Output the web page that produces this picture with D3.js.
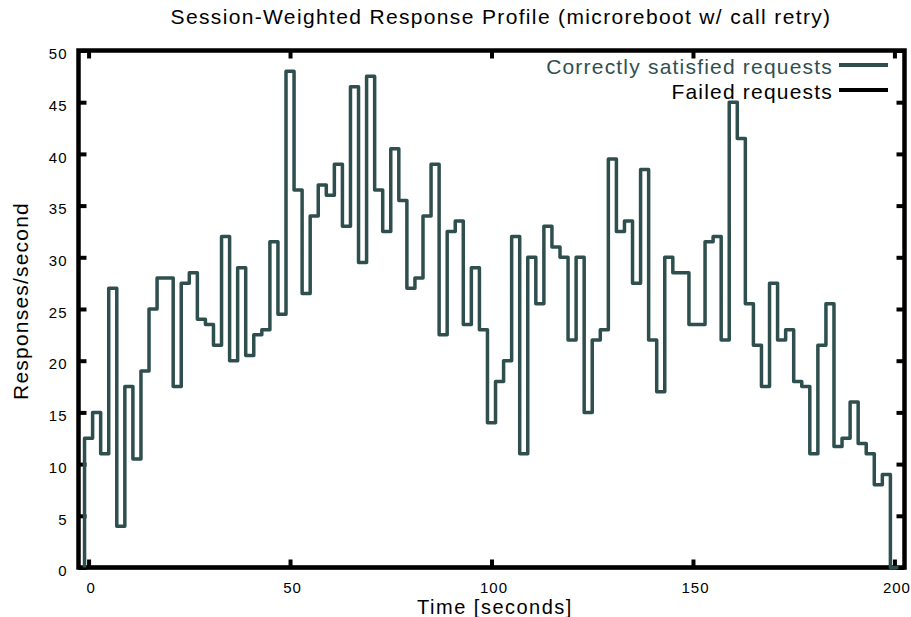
<!DOCTYPE html>
<html><head><meta charset="utf-8">
<script src="https://cdn.jsdelivr.net/npm/d3@7"></script>
<style>
html,body{margin:0;padding:0;background:#fff;}
svg{display:block;font-family:"Liberation Sans",Arial,Helvetica,sans-serif;}
</style></head><body>
<svg id="chart" width="911" height="617"></svg>
<script>
const timeSeconds = [
  0, 2, 4, 6, 8, 10, 12, 14, 16, 18,
  20, 22, 24, 26, 28, 30, 32, 34, 36, 38,
  40, 42, 44, 46, 48, 50, 52, 54, 56, 58,
  60, 62, 64, 66, 68, 70, 72, 74, 76, 78,
  80, 82, 84, 86, 88, 90, 92, 94, 96, 98,
  100, 102, 104, 106, 108, 110, 112, 114, 116, 118,
  120, 122, 124, 126, 128, 130, 132, 134, 136, 138,
  140, 142, 144, 146, 148, 150, 152, 154, 156, 158,
  160, 162, 164, 166, 168, 170, 172, 174, 176, 178,
  180, 182, 184, 186, 188, 190, 192, 194, 196, 198,
  200];
const correctValues = [
  12.5, 15, 11, 27, 4, 17.5, 10.5, 19, 25, 28,
  28, 17.5, 27.5, 28.5, 24, 23.5, 21.5, 32, 20, 29,
  20.5, 22.5, 23, 31.5, 24.5, 48, 36.5, 26.5, 34, 37,
  36, 39, 33, 46.5, 29.5, 47.5, 36.5, 32.5, 40.5, 35.5,
  27, 28, 34, 39, 22.5, 32.5, 33.5, 23.5, 29, 23,
  14, 18, 20, 32, 11, 30, 25.5, 33, 31, 30,
  22, 30, 15, 22, 23, 39.5, 32.5, 33.5, 27.5, 38.5,
  22, 17, 30, 28.5, 28.5, 23.5, 23.5, 31.5, 32, 22,
  45, 41.5, 25.5, 21.5, 17.5, 27.5, 22, 23, 18, 17.5,
  11, 21.5, 25.5, 11.7, 12.5, 16, 12, 11, 8, 9,
  0];
const failedValues = [
  0, 0, 0, 0, 0, 0, 0, 0, 0, 0,
  0, 0, 0, 0, 0, 0, 0, 0, 0, 0,
  0, 0, 0, 0, 0, 0, 0, 0, 0, 0,
  0, 0, 0, 0, 0, 0, 0, 0, 0, 0,
  0, 0, 0, 0, 0, 0, 0, 0, 0, 0,
  0, 0, 0, 0, 0, 0, 0, 0, 0, 0,
  0, 0, 0, 0, 0, 0, 0, 0, 0, 0,
  0, 0, 0, 0, 0, 0, 0, 0, 0, 0,
  0, 0, 0, 0, 0, 0, 0, 0, 0, 0,
  0, 0, 0, 0, 0, 0, 0, 0, 0, 0,
  0];
const xTickValues = [0, 50, 100, 150, 200];
const yTickValues = [0, 5, 10, 15, 20, 25, 30, 35, 40, 45, 50];
const seriesNames = ["Correctly satisfied requests", "Failed requests"];
const seriesColors = ["#2f4f4f", "#000000"];
const chartTitle = "Session-Weighted Response Profile (microreboot w/ call retry)";
const xAxisTitle = "Time [seconds]";
const yAxisTitle = "Responses/second";

(function () {
const svg = d3.select("#chart");
const pLeft = 78.5, pRight = 904.5, pTop = 50.5, pBottom = 567.5;
const x = d3.scaleLinear().domain([-2.5, 202.5]).range([pLeft, pRight]);
const y = d3.scaleLinear().domain([0, 50]).range([pBottom, pTop]);

// border
svg.append("rect").attr("x", pLeft).attr("y", pTop)
  .attr("width", pRight - pLeft).attr("height", pBottom - pTop)
  .attr("fill", "none").attr("stroke", "#000").attr("stroke-width", 4.5);

function styleAxis(g) {
  g.select(".domain").remove();
  g.selectAll(".tick line").attr("stroke", "#000").attr("stroke-width", 4);
  g.selectAll(".tick text").attr("fill", "#000")
    .style("font-size", "15px").style("letter-spacing", "1px")
    .style("font-family", '"Liberation Sans",Arial,Helvetica,sans-serif');
}

svg.append("g").attr("transform", `translate(${pLeft},0)`)
  .call(d3.axisLeft(y).tickValues(yTickValues).tickSizeInner(-8).tickSizeOuter(0).tickPadding(11))
  .call(styleAxis)
  .call(g => g.selectAll(".tick text").attr("dy", "0.35em").attr("y", 3));

svg.append("g").attr("transform", `translate(${pRight},0)`)
  .call(d3.axisRight(y).tickValues(yTickValues).tickSizeInner(-8).tickSizeOuter(0).tickFormat(""))
  .call(styleAxis);

svg.append("g").attr("transform", `translate(0,${pBottom})`)
  .call(d3.axisBottom(x).tickValues(xTickValues).tickSizeInner(-8).tickSizeOuter(0))
  .call(styleAxis)
  .call(g => g.selectAll(".tick text").attr("dy", 0).attr("y", 25.5).attr("dx", 2));

svg.append("g").attr("transform", `translate(0,${pTop})`)
  .call(d3.axisTop(x).tickValues(xTickValues).tickSizeInner(-8).tickSizeOuter(0).tickFormat(""))
  .call(styleAxis);

// histogram-step lines
function histepPoints(values) {
  const n = timeSeconds.length;
  const pts = [{t: timeSeconds[0] - 1, v: 0}];
  timeSeconds.forEach((t, i) => pts.push({t: t - 1, v: values[i]}));
  pts.push({t: timeSeconds[n - 1] + 1, v: values[n - 1]});
  return pts;
}
const line = d3.line().x(d => x(d.t)).y(d => y(d.v)).curve(d3.curveStepAfter);

svg.append("path").datum(histepPoints(failedValues))
  .attr("d", line).attr("fill", "none").attr("stroke", seriesColors[1])
  .attr("stroke-width", 3.5).attr("stroke-linejoin", "round");

svg.append("path").datum(histepPoints(correctValues))
  .attr("d", line).attr("fill", "none").attr("stroke", seriesColors[0])
  .attr("stroke-width", 3.5).attr("stroke-linejoin", "round");

// legend
const legend = svg.append("g");
seriesNames.forEach((name, i) => {
  const baseY = 74 + i * 25;
  legend.append("text").attr("x", 833).attr("y", baseY)
    .attr("text-anchor", "end").attr("fill", i === 0 ? seriesColors[0] : "#000")
    .style("font-size", "21px").style("letter-spacing", "1.2px").text(name);
  legend.append("line").attr("x1", 839).attr("x2", 888)
    .attr("y1", baseY - 9).attr("y2", baseY - 9)
    .attr("stroke", seriesColors[i]).attr("stroke-width", 4);
});

// titles
svg.append("text").attr("x", 501).attr("y", 24).attr("text-anchor", "middle")
  .style("font-size", "21px").style("letter-spacing", "1.35px").attr("fill", "#000")
  .text(chartTitle);
svg.append("text").attr("x", 495).attr("y", 614).attr("text-anchor", "middle")
  .style("font-size", "20px").style("letter-spacing", "1.5px").attr("fill", "#000")
  .text(xAxisTitle);
svg.append("text").attr("transform", "translate(28,301) rotate(-90)")
  .attr("text-anchor", "middle")
  .style("font-size", "21px").style("letter-spacing", "1.2px").attr("fill", "#000")
  .text(yAxisTitle);
})();
</script>
</body></html>
